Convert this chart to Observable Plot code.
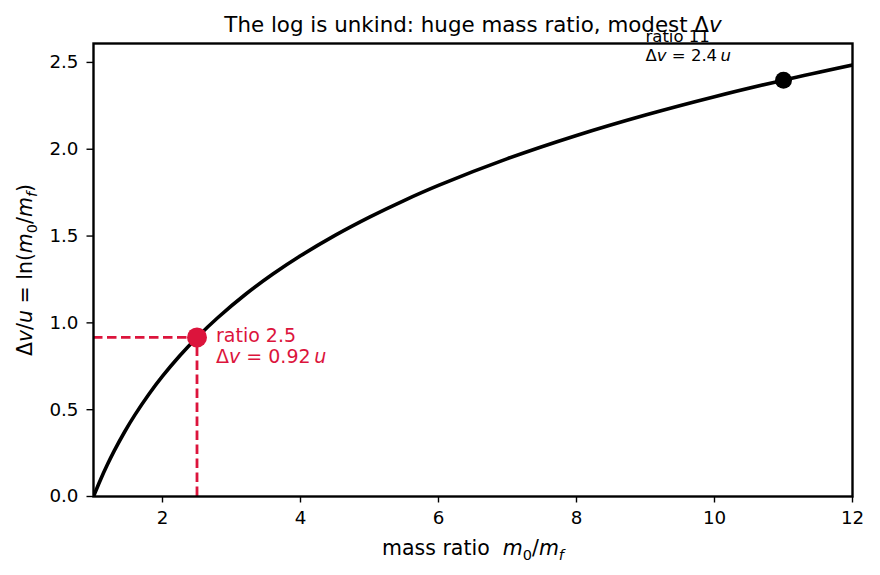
<!DOCTYPE html>
<html><head><meta charset="utf-8">
<script src="https://cdn.jsdelivr.net/npm/d3@7"></script>
<script src="https://cdn.jsdelivr.net/npm/@observablehq/plot@0.6"></script>
<style>body{margin:0;background:#fff;} svg{display:block;}</style>
</head><body><div id="chart"></div>
<script>
// ---- data ----
const massRatio = [1, 1.1, 1.2, 1.3, 1.45, 1.6, 1.8, 2, 2.25, 2.5, 2.8, 3.2, 3.6, 4, 4.5, 5, 5.5, 6, 7, 8, 9, 10, 11, 12];
const dvOverU   = [0, 0.0953, 0.1823, 0.2624, 0.3716, 0.4700, 0.5878, 0.6931, 0.8109, 0.9163, 1.0296, 1.1632, 1.2809, 1.3863, 1.5041, 1.6094, 1.7047, 1.7918, 1.9459, 2.0794, 2.1972, 2.3026, 2.3979, 2.4849];
const lowRatio = 2.5, lowDv = 0.9163;
const highRatio = 11, highDv = 2.3979;
const xTicks = [2, 4, 6, 8, 10, 12];
const yTicks = [0, 0.5, 1.0, 1.5, 2.0, 2.5];
const titleText = "The log is unkind: huge mass ratio, modest Δv";
const xLabelText = "mass ratio  m0/mf";
const yLabelText = "Δv/u = ln(m0/mf)";
const lowLabel1 = "ratio 2.5", lowLabel2 = "Δv = 0.92 u";
const highLabel1 = "ratio 11", highLabel2 = "Δv = 2.4 u";

const curve = massRatio.map((x, i) => ({x, y: dvOverU[i]}));
const RED = "crimson";

const plot = Plot.plot({
  width: 880, height: 575,
  marginLeft: 93, marginRight: 28, marginTop: 43, marginBottom: 79,
  style: {fontFamily: "DejaVu Sans", fontSize: "18px", color: "black", background: "white"},
  x: {domain: [1, 12]},
  y: {domain: [0, 2.609]},
  marks: [
    Plot.line(curve, {x: "x", y: "y", curve: "catmull-rom", stroke: "black", strokeWidth: 3.6, clip: true}),
    Plot.ruleY([lowDv], {x1: 1, x2: lowRatio, stroke: RED, strokeWidth: 2.8, strokeDasharray: "9.5,4.5"}),
    Plot.ruleX([lowRatio], {y1: 0, y2: lowDv, stroke: RED, strokeWidth: 2.8, strokeDasharray: "9.5,4.5"}),
    Plot.dot([{x: lowRatio, y: lowDv}], {x: "x", y: "y", r: 10, fill: RED, stroke: null}),
    Plot.dot([{x: highRatio, y: highDv}], {x: "x", y: "y", r: 8.5, fill: "black", stroke: null}),
    Plot.frame({stroke: "black", strokeWidth: 2.4}),
    Plot.axisX({ticks: xTicks, tickSize: 6.5, tickPadding: 7.5, strokeWidth: 1.4, fontSize: 18.3, label: null, tickFormat: d => String(d)}),
    Plot.axisY({ticks: yTicks, tickSize: 6.5, tickPadding: 8.5, strokeWidth: 1.4, fontSize: 18.3, label: null, tickFormat: d3.format(".1f")}),
    Plot.text([titleText], {frameAnchor: "top", lineAnchor: "middle", dy: -18.3, fontSize: 21.4, text: d => d, fill: "black"}),
    Plot.text([xLabelText], {frameAnchor: "bottom", lineAnchor: "middle", dy: 52.4, fontSize: 20.5, text: d => d, fill: "black"}),
    Plot.text([yLabelText], {frameAnchor: "left", textAnchor: "middle", lineAnchor: "middle", dx: -67.6, rotate: -90, fontSize: 20.5, text: d => d, fill: "black"}),
    Plot.text([{x: lowRatio, y: lowDv, t: lowLabel1}, {x: lowRatio, y: lowDv, t: lowLabel2}],
      {x: "x", y: "y", text: "t", textAnchor: "start", lineAnchor: "middle", dx: 19, fontSize: 19, fill: RED}),
    Plot.text([{x: highRatio, y: highDv, t: highLabel1}, {x: highRatio, y: highDv, t: highLabel2}],
      {x: "x", y: "y", text: "t", textAnchor: "start", lineAnchor: "middle", dx: -138, fontSize: 16.5, fill: "black"})
  ]
});
document.getElementById("chart").appendChild(plot);

// vertical offsets of the two-line annotations (layout only)
const svg = d3.select(plot);
const offs = {[lowLabel1]: -1.5, [lowLabel2]: 19.5, [highLabel1]: -43, [highLabel2]: -24};

const it = s => `<tspan font-style="italic">${s}</tspan>`;
const sub0 = `<tspan dy="4.5" font-size="14.5">0</tspan><tspan dy="-4.5">/</tspan>`;
const subf = `<tspan dy="4.5" font-size="14.5" font-style="italic">f</tspan>`;
const rich = {
  [titleText]: `The log is unkind: huge mass ratio, modest Δ${it("v")}`,
  [xLabelText]: `mass ratio\u00a0\u00a0${it("m")}${sub0}${it("m")}${subf}`,
  [yLabelText]: `Δ${it("v")}/${it("u")} = ln(${it("m")}${sub0}${it("m")}${subf}<tspan dy="-4.5">)</tspan>`,
  [lowLabel2]: `Δ${it("v")} = 0.92\u2009${it("u")}`,
  [highLabel2]: `Δ${it("v")} = 2.4\u2009${it("u")}`
};
svg.selectAll("text").each(function() {
  const t = this.textContent;
  if (t in offs) {
    const tr = this.getAttribute("transform") || "";
    this.setAttribute("transform", tr + ` translate(0,${offs[t]})`);
  }
  if (t in rich) this.innerHTML = rich[t];
});
</script>
</body></html>
